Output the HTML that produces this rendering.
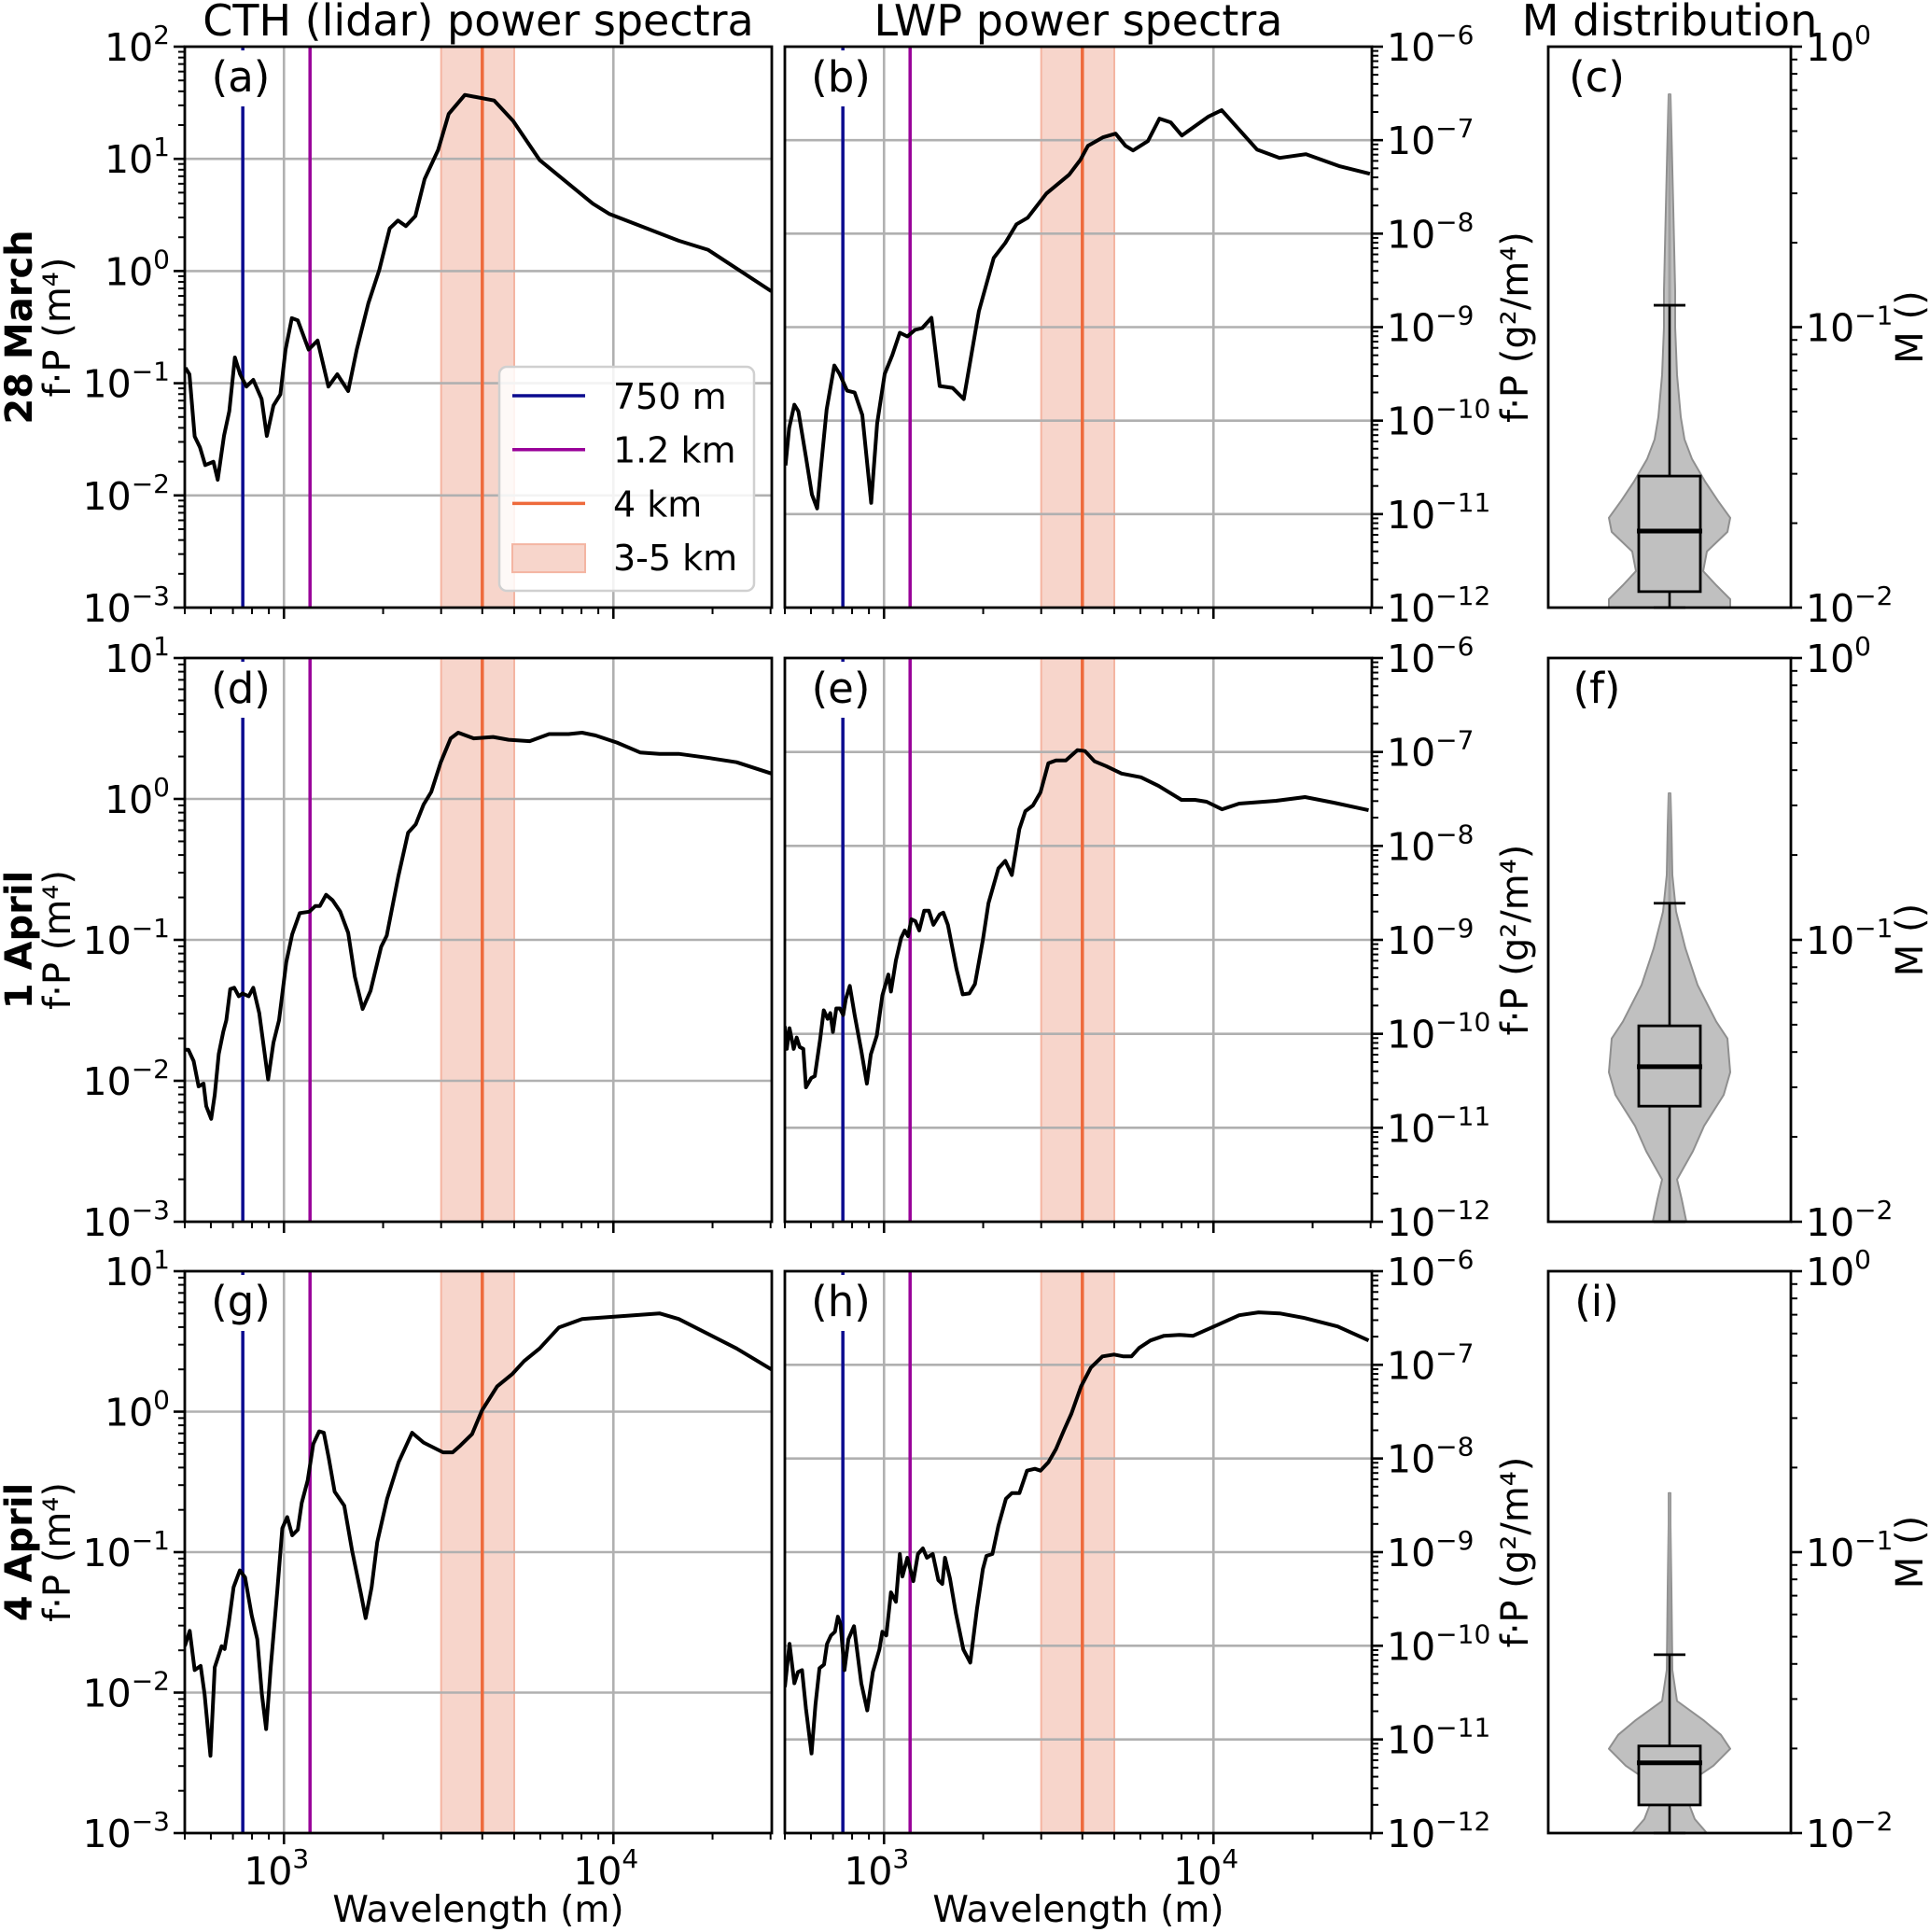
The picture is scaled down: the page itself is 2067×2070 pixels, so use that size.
<!DOCTYPE html>
<html><head><meta charset="utf-8"><style>
html,body{margin:0;padding:0;background:#fff}
svg{display:block;font-family:"DejaVu Sans","Liberation Sans",sans-serif}
</style></head><body>
<svg id="fig" width="2067" height="2070" viewBox="0 0 2067 2070" xmlns="http://www.w3.org/2000/svg"></svg>
<script>
// ---------- DATA (log10 wavelength [m], log10 power) ----------
const aLogWl=[2.701,2.713,2.729,2.745,2.761,2.778,2.786,2.799,2.818,2.834,2.851,2.867,2.886,2.907,2.932,2.948,2.968,2.989,3.005,3.024,3.042,3.075,3.102,3.135,3.162,3.195,3.221,3.256,3.289,3.321,3.346,3.37,3.399,3.427,3.468,3.5,3.549,3.638,3.695,3.776,3.938,3.987,4.198,4.287,4.479];
const aLogP=[-0.863,-0.92,-1.474,-1.57,-1.73,-1.71,-1.70,-1.86,-1.47,-1.25,-0.77,-0.92,-1.03,-0.97,-1.14,-1.47,-1.20,-1.10,-0.70,-0.42,-0.44,-0.70,-0.62,-1.03,-0.92,-1.07,-0.70,-0.29,0.007,0.38,0.45,0.40,0.49,0.82,1.08,1.40,1.57,1.52,1.34,0.99,0.6,0.51,0.27,0.19,-0.18];
const bLogWl=[2.701,2.712,2.728,2.74,2.763,2.781,2.797,2.808,2.826,2.849,2.865,2.888,2.911,2.934,2.961,2.979,3.002,3.025,3.048,3.071,3.094,3.116,3.144,3.169,3.208,3.242,3.288,3.333,3.368,3.402,3.436,3.493,3.562,3.596,3.619,3.664,3.703,3.733,3.756,3.801,3.836,3.870,3.904,3.984,4.025,4.132,4.201,4.281,4.384,4.475];
const bLogP=[-10.48,-10.08,-9.83,-9.90,-10.39,-10.79,-10.94,-10.52,-9.88,-9.41,-9.50,-9.68,-9.70,-9.94,-10.88,-10.03,-9.50,-9.30,-9.06,-9.10,-9.03,-9.01,-8.90,-9.63,-9.65,-9.77,-8.83,-8.26,-8.10,-7.90,-7.83,-7.57,-7.37,-7.21,-7.06,-6.97,-6.93,-7.06,-7.11,-7.01,-6.77,-6.81,-6.95,-6.75,-6.68,-7.10,-7.19,-7.15,-7.28,-7.36];
const dLogWl=[2.699,2.71,2.726,2.741,2.756,2.764,2.779,2.79,2.802,2.816,2.825,2.837,2.849,2.863,2.874,2.893,2.907,2.925,2.952,2.968,2.985,3.007,3.025,3.048,3.077,3.095,3.109,3.128,3.148,3.171,3.195,3.215,3.239,3.263,3.295,3.312,3.347,3.377,3.4,3.424,3.447,3.476,3.506,3.529,3.576,3.635,3.682,3.746,3.805,3.864,3.905,3.946,4.011,4.081,4.14,4.198,4.292,4.374,4.48];
const dLogP=[-1.78,-1.78,-1.86,-2.04,-2.02,-2.18,-2.27,-2.10,-1.81,-1.65,-1.57,-1.35,-1.34,-1.40,-1.38,-1.40,-1.34,-1.52,-1.99,-1.73,-1.57,-1.16,-0.96,-0.81,-0.80,-0.76,-0.76,-0.68,-0.72,-0.80,-0.95,-1.26,-1.49,-1.36,-1.05,-0.97,-0.55,-0.24,-0.18,-0.04,0.05,0.26,0.43,0.47,0.43,0.44,0.42,0.41,0.46,0.46,0.47,0.45,0.40,0.33,0.32,0.32,0.29,0.26,0.18];
const eLogWl=[2.699,2.705,2.713,2.726,2.735,2.744,2.755,2.763,2.779,2.79,2.806,2.817,2.829,2.837,2.845,2.855,2.866,2.876,2.884,2.896,2.911,2.931,2.948,2.96,2.978,2.995,3.013,3.021,3.036,3.052,3.063,3.073,3.083,3.095,3.107,3.122,3.136,3.15,3.169,3.18,3.194,3.22,3.239,3.259,3.276,3.3,3.317,3.347,3.368,3.388,3.411,3.429,3.452,3.475,3.499,3.522,3.552,3.587,3.61,3.639,3.674,3.721,3.78,3.833,3.903,3.944,3.979,4.026,4.078,4.19,4.278,4.365,4.471];
const eLogP=[-9.92,-10.16,-9.94,-10.16,-10.04,-10.14,-10.16,-10.57,-10.47,-10.45,-10.06,-9.75,-9.84,-9.78,-9.98,-9.73,-9.73,-9.80,-9.63,-9.49,-9.80,-10.18,-10.53,-10.22,-10.02,-9.59,-9.37,-9.55,-9.22,-8.98,-8.90,-8.96,-8.78,-8.80,-8.90,-8.69,-8.69,-8.84,-8.73,-8.71,-8.84,-9.31,-9.58,-9.57,-9.47,-9.0,-8.61,-8.24,-8.16,-8.31,-7.82,-7.63,-7.57,-7.43,-7.12,-7.09,-7.09,-6.98,-6.99,-7.10,-7.15,-7.23,-7.27,-7.36,-7.51,-7.51,-7.53,-7.61,-7.55,-7.52,-7.48,-7.54,-7.62];
const gLogWl=[2.699,2.714,2.729,2.747,2.759,2.777,2.79,2.811,2.82,2.832,2.847,2.866,2.882,2.902,2.919,2.933,2.946,2.96,2.98,2.995,3.01,3.025,3.042,3.054,3.072,3.089,3.107,3.121,3.136,3.154,3.183,3.207,3.234,3.248,3.266,3.283,3.313,3.348,3.389,3.424,3.483,3.512,3.536,3.571,3.601,3.647,3.694,3.729,3.776,3.835,3.905,4.022,4.14,4.198,4.374,4.48];
const gLogP=[-1.67,-1.56,-1.84,-1.81,-2.01,-2.45,-1.82,-1.67,-1.69,-1.51,-1.25,-1.13,-1.18,-1.45,-1.62,-2.01,-2.26,-1.82,-1.27,-0.83,-0.75,-0.88,-0.84,-0.65,-0.49,-0.23,-0.14,-0.15,-0.33,-0.57,-0.67,-0.99,-1.30,-1.47,-1.25,-0.93,-0.62,-0.36,-0.15,-0.22,-0.29,-0.29,-0.24,-0.16,0.008,0.18,0.27,0.36,0.45,0.60,0.66,0.68,0.70,0.66,0.45,0.30];
const hLogWl=[2.699,2.713,2.728,2.739,2.751,2.763,2.78,2.792,2.804,2.818,2.827,2.839,2.851,2.86,2.868,2.88,2.892,2.909,2.931,2.949,2.966,2.986,2.995,3.007,3.021,3.036,3.048,3.056,3.071,3.089,3.103,3.118,3.13,3.148,3.165,3.177,3.185,3.2,3.218,3.241,3.262,3.282,3.3,3.311,3.329,3.347,3.37,3.388,3.411,3.434,3.458,3.475,3.499,3.522,3.546,3.569,3.598,3.628,3.663,3.698,3.727,3.751,3.774,3.809,3.85,3.897,3.938,4.002,4.078,4.137,4.201,4.277,4.377,4.471];
const hLogP=[-10.44,-9.98,-10.40,-10.28,-10.26,-10.67,-11.15,-10.63,-10.24,-10.20,-9.98,-9.89,-9.85,-9.69,-9.77,-10.26,-9.93,-9.79,-10.40,-10.69,-10.28,-10.04,-9.85,-9.89,-9.43,-9.53,-9.02,-9.26,-9.06,-9.31,-9.02,-8.96,-9.06,-9.02,-9.30,-9.34,-9.06,-9.28,-9.65,-10.04,-10.18,-9.61,-9.18,-9.04,-9.02,-8.72,-8.43,-8.37,-8.37,-8.13,-8.11,-8.13,-8.04,-7.90,-7.70,-7.52,-7.23,-7.03,-6.91,-6.89,-6.91,-6.91,-6.82,-6.74,-6.69,-6.68,-6.69,-6.59,-6.47,-6.44,-6.45,-6.50,-6.59,-6.74];
// violin distributions: log10 M levels and density half-widths
const cLevels=[-2.0,-1.97,-1.92,-1.87,-1.80,-1.73,-1.68,-1.62,-1.55,-1.47,-1.40,-1.32,-1.17,-1.0,-0.87,-0.58,-0.3,-0.17];
const cDensity=[65,65,50,36,40,62,65,52,38,24,16,12,8,6,6,4,2,1];
const cBox=[-2.0,-1.943,-1.727,-1.531,-0.922]; // lo whisker, q1, median, q3, hi whisker
const fLevels=[-2.0,-1.92,-1.85,-1.75,-1.66,-1.55,-1.47,-1.35,-1.29,-1.16,-1.03,-0.90,-0.77,-0.6,-0.48];
const fDensity=[18,13,8,25,37,58,65,62,50,30,17,7,3,2,1];
const fBox=[-2.0,-1.59,-1.45,-1.305,-0.87];
const iLevels=[-2.0,-1.95,-1.89,-1.81,-1.76,-1.70,-1.65,-1.60,-1.53,-1.42,-1.13,-0.90,-0.79];
const iDensity=[40,27,20,25,47,65,55,37,8,3,2,1,1];
const iBox=[-2.0,-1.90,-1.75,-1.69,-1.365];
const markerWl=[750,1200,4000];
const bandWl=[3000,5000];
const legendLabels=["750 m","1.2 km","4 km","3-5 km"];
const yRangeA1=[-3,2], yRangeA=[-3,1], yRangeB=[-12,-6], yRangeC=[-2,0];

// ---------- LAYOUT ----------
const NS="http://www.w3.org/2000/svg";
const svg=document.getElementById('fig');
const rows=[[50,651],[705,1309],[1362,1964]];
const colA=198, colB=841, specW=629, colC=1659, colCW=260;
const DEC=353, XL=2.69897;
const markerColors=["#0b0b8f","#990099","#ee6a3c"];
function el(tag,attrs,parent){const e=document.createElementNS(NS,tag);for(const k in attrs)e.setAttribute(k,attrs[k]);(parent||svg).appendChild(e);return e;}
function xs(lw,x0){return x0+(lw-XL)*DEC;}
function ysF(top,bot,lo,hi){return v=>bot-(v-lo)/(hi-lo)*(bot-top);}
function powLabel(parent,x,y,exp,anchor){
  const t=el('text',{x:x,y:y,'font-size':41,'text-anchor':anchor},parent);
  t.appendChild(document.createTextNode('10'));
  const s=el('tspan',{dy:-18,'font-size':28},t);
  s.textContent=(exp<0?'\u2212'+(-exp):String(exp));
  return t;
}

function specPanel(x0,top,bot,yr,lw,lp,letter,rightAxis,showX,name){
  const g=el('g',{});
  
  
  const ys=ysF(top,bot,yr[0],yr[1]);
  const cid='clip-'+letter;
  const cp=el('clipPath',{id:cid},g);el('rect',{x:x0,y:top,width:specW,height:bot-top},cp);
  const band=el('rect',{x:xs(Math.log10(bandWl[0]),x0),y:top,width:xs(Math.log10(bandWl[1]),x0)-xs(Math.log10(bandWl[0]),x0),height:bot-top,fill:'#f7d5cb',stroke:'#f4b5a2','stroke-width':2},g);
  
  
  for(let d=3;d<=4;d++){el('line',{x1:xs(d,x0),x2:xs(d,x0),y1:top,y2:bot,stroke:'#b0b0b0','stroke-width':2.6},g);}
  for(let e=yr[0]+1;e<yr[1];e++){el('line',{x1:x0,x2:x0+specW,y1:ys(e),y2:ys(e),stroke:'#b0b0b0','stroke-width':2.6},g);}
  markerWl.forEach((w,i)=>{const l=el('line',{x1:xs(Math.log10(w),x0),x2:xs(Math.log10(w),x0),y1:top,y2:bot,stroke:markerColors[i],'stroke-width':3.5},g);
    
    });
  el('rect',{x:x0+22,y:top+4,width:76,height:60,fill:'#fff'},g);
  const lt=el('text',{x:x0+60,y:top+48,'font-size':45,'text-anchor':'middle'},g);lt.textContent='('+letter+')';
  
  
  let d='';lw.forEach((w,i)=>{d+=(i?'L':'M')+xs(w,x0).toFixed(1)+','+ys(lp[i]).toFixed(1);});
  const p=el('path',{d:d,fill:'none',stroke:'#000','stroke-width':4,'stroke-linejoin':'round','clip-path':'url(#'+cid+')'},g);
  
  
  el('rect',{x:x0,y:top,width:specW,height:bot-top,fill:'none',stroke:'#000','stroke-width':2.8},g);
  for(let d2=2;d2<=4;d2++)for(let k=1;k<=9;k++){const lv=d2+Math.log10(k);if(lv<XL-1e-6||lv>XL+specW/DEC+1e-6)continue;
    const X=xs(lv,x0);el('line',{x1:X,x2:X,y1:bot,y2:bot+(k==1?12:7),stroke:'#000','stroke-width':k==1?2.6:2},g);}
  if(showX){powLabel(g,xs(3,x0)-8,bot+55,3,'middle');powLabel(g,xs(4,x0)-8,bot+55,4,'middle');
    const xl=el('text',{x:x0+specW/2,y:bot+95,'font-size':39,'text-anchor':'middle'},g);xl.textContent='Wavelength (m)';
    
    }
  const ax=rightAxis?x0+specW:x0, sg=rightAxis?1:-1;
  for(let e=yr[0];e<=yr[1];e++){
    el('line',{x1:ax,x2:ax+sg*12,y1:ys(e),y2:ys(e),stroke:'#000','stroke-width':2.6},g);
    powLabel(g,rightAxis?ax+16:ax-16,ys(e)+15,e,rightAxis?'start':'end');
    if(e<yr[1])for(let k=2;k<=9;k++){const Y=ys(e+Math.log10(k));el('line',{x1:ax,x2:ax+sg*7,y1:Y,y2:Y,stroke:'#000','stroke-width':2},g);}
  }
  return g;
}

function violinPanel(top,bot,levels,dens,box,letter,name){
  const g=el('g',{});
  
  
  const ys=ysF(top,bot,yRangeC[0],yRangeC[1]);
  const cx=colC+colCW/2;
  const cid='clip-'+letter;
  const cp=el('clipPath',{id:cid},g);el('rect',{x:colC,y:top,width:colCW,height:bot-top},cp);
  let d='';levels.forEach((l,i)=>{d+=(i?'L':'M')+(cx+dens[i]).toFixed(1)+','+ys(l).toFixed(1);});
  for(let i=levels.length-1;i>=0;i--)d+='L'+(cx-dens[i]).toFixed(1)+','+ys(levels[i]).toFixed(1);
  d+='Z';
  const v=el('path',{d:d,fill:'#c0c0c0',stroke:'#8f8f8f','stroke-width':2,'stroke-linejoin':'round','clip-path':'url(#'+cid+')'},g);
  
  
  el('line',{x1:cx,x2:cx,y1:ys(box[4]),y2:ys(levels[levels.length-1]),stroke:'#a0a0a0','stroke-width':3},g);
  el('line',{x1:cx,x2:cx,y1:ys(box[0]),y2:ys(box[4]),stroke:'#000','stroke-width':2.6},g);
  el('line',{x1:cx-17,x2:cx+17,y1:ys(box[4]),y2:ys(box[4]),stroke:'#000','stroke-width':2.8},g);
  el('line',{x1:cx-17,x2:cx+17,y1:ys(box[0]),y2:ys(box[0]),stroke:'#000','stroke-width':2.8},g);
  const b=el('rect',{x:cx-33,y:ys(box[3]),width:66,height:ys(box[1])-ys(box[3]),fill:'#c0c0c0',stroke:'#000','stroke-width':2.8},g);
  
  
  el('line',{x1:cx-35,x2:cx+35,y1:ys(box[2]),y2:ys(box[2]),stroke:'#000','stroke-width':5},g);
  const lt=el('text',{x:colC+52,y:top+48,'font-size':45,'text-anchor':'middle'},g);lt.textContent='('+letter+')';
  
  
  el('rect',{x:colC,y:top,width:colCW,height:bot-top,fill:'none',stroke:'#000','stroke-width':2.8},g);
  const ax=colC+colCW;
  for(let e=yRangeC[0];e<=yRangeC[1];e++){
    el('line',{x1:ax,x2:ax+12,y1:ys(e),y2:ys(e),stroke:'#000','stroke-width':2.6},g);
    powLabel(g,ax+16,ys(e)+15,e,'start');
    if(e<yRangeC[1])for(let k=2;k<=9;k++){const Y=ys(e+Math.log10(k));el('line',{x1:ax,x2:ax+7,y1:Y,y2:Y,stroke:'#000','stroke-width':2},g);}
  }
  const yl=el('text',{x:0,y:0,'font-size':40,'text-anchor':'middle',transform:'translate(2060,'+((top+bot)/2)+') rotate(-90)'},g);
  yl.textContent='M ()';
  
  
}

const letters=[['a','b','c'],['d','e','f'],['g','h','i']];
const dayNames=['28 March','1 April','4 April'];
const specData=[[aLogWl,aLogP,bLogWl,bLogP],[dLogWl,dLogP,eLogWl,eLogP],[gLogWl,gLogP,hLogWl,hLogP]];
const vData=[[cLevels,cDensity,cBox],[fLevels,fDensity,fBox],[iLevels,iDensity,iBox]];
rows.forEach((r,i)=>{
  const [top,bot]=r;
  specPanel(colA,top,bot,i==0?yRangeA1:yRangeA,specData[i][0],specData[i][1],letters[i][0],false,i==2,'cth-spectrum-panel-'+letters[i][0]);
  specPanel(colB,top,bot,yRangeB,specData[i][2],specData[i][3],letters[i][1],true,i==2,'lwp-spectrum-panel-'+letters[i][1]);
  violinPanel(top,bot,vData[i][0],vData[i][1],vData[i][2],letters[i][2],'m-violin-panel-'+letters[i][2]);
  const mid=(top+bot)/2;
  const dn=el('text',{x:0,y:0,'font-size':40,'font-weight':'bold','text-anchor':'middle',transform:'translate(34,'+mid+') rotate(-90)'});
  dn.textContent=dayNames[i];
  
  
  const yl=el('text',{x:0,y:0,'font-size':40,'text-anchor':'middle',transform:'translate(75,'+mid+') rotate(-90)'});
  yl.textContent='f\u00b7P (m\u2074)';
  
  
  const yr=el('text',{x:0,y:0,'font-size':40,'text-anchor':'middle',transform:'translate(1637,'+mid+') rotate(-90)'});
  yr.textContent='f\u00b7P (g\u00b2/m\u2074)';
  
  
});
[['CTH (lidar) power spectra',colA+specW/2],['LWP power spectra',colB+specW/2],['M distribution',colC+colCW/2]].forEach((t,i)=>{
  const e=el('text',{x:t[1],y:38,'font-size':46,'text-anchor':'middle'});e.textContent=t[0];
  
  
});
const lg=el('g',{});


el('rect',{x:535,y:393,width:273,height:240,rx:8,fill:'#fff','fill-opacity':0.85,stroke:'#d0d0d0','stroke-width':2.5},lg);
legendLabels.forEach((lab,i)=>{
  const y=424+i*57.7;
  if(i<3){el('line',{x1:549,x2:627,y1:y,y2:y,stroke:markerColors[i],'stroke-width':3.5},lg);}
  else{el('rect',{x:549,y:y-14,width:78,height:30,fill:'#f7d5cb',stroke:'#f4b5a2','stroke-width':2},lg);}
  const t=el('text',{x:657,y:y+14,'font-size':38},lg);t.textContent=lab;
  
  
});
</script>
</body></html>
